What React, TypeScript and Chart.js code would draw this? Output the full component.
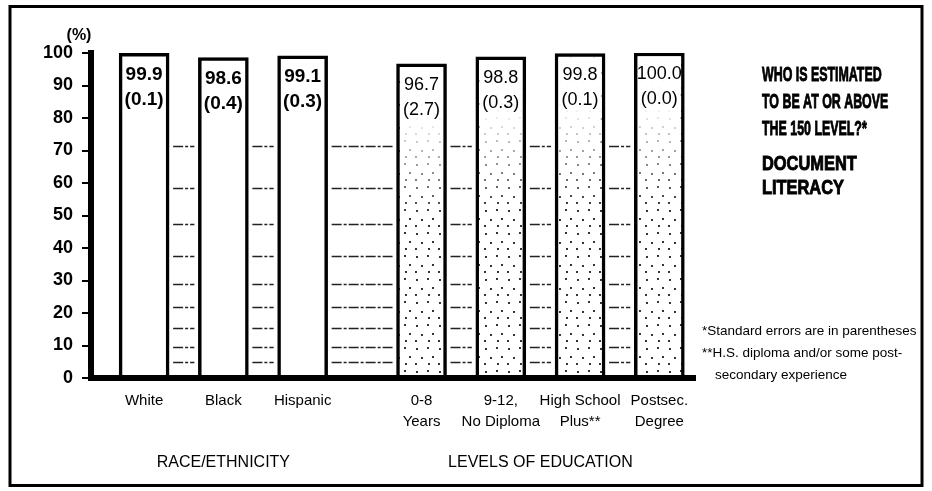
import React, { useEffect, useRef } from "react";
import { Chart, registerables } from "chart.js";

Chart.register(...registerables);

// ---------- data ----------
const categories: string[][] = [
  ["White"],
  ["Black"],
  ["Hispanic"],
  ["0-8", "Years"],
  ["9-12,", "No Diploma"],
  ["High School", "Plus**"],
  ["Postsec.", "Degree"],
];
const positions = [0, 1, 2, 3.5, 4.5, 5.5, 6.5];
const values = [99.9, 98.6, 99.1, 96.7, 98.8, 99.8, 100.0];
const stdErrors = [0.1, 0.4, 0.3, 2.7, 0.3, 0.1, 0.0];
const isEducation = [false, false, false, true, true, true, true];

const groupNames = ["RACE/ETHNICITY", "LEVELS OF EDUCATION"];
const groupCenters = [1, 5];

const titleLines = ["WHO IS ESTIMATED", "TO BE AT OR ABOVE", "THE 150 LEVEL?*"];
const subtitleLines = ["DOCUMENT", "LITERACY"];
const footnotes = [
  "*Standard errors are in parentheses",
  "**H.S. diploma and/or some post-",
  "secondary experience",
];
const yUnit = "(%)";

// decorative background hatch levels (between bars)
const decorLevels = [5, 9.5, 15.5, 22, 29, 37.5, 47.5, 58.5, 71.5];

// ---------- style ----------
const FONT = '"Liberation Sans", Arial, sans-serif';
const stippleDots: number[][] = [
  [3, 4], [14, 3], [19, 12], [8, 13], [15, 19], [2, 19],
];

function makeStipple(): CanvasPattern | string {
  const c = document.createElement("canvas");
  c.width = 23;
  c.height = 23;
  const g = c.getContext("2d");
  if (!g) return "#fff";
  g.fillStyle = "#fff";
  g.fillRect(0, 0, 23, 23);
  g.fillStyle = "#000";
  for (const [dx, dy] of stippleDots) {
    g.beginPath();
    g.arc(dx, dy, 1.05, 0, Math.PI * 2);
    g.fill();
  }
  return g.createPattern(c, "repeat") || "#fff";
}

function drawScaled(ctx: CanvasRenderingContext2D, text: string, x: number, y: number, sx: number) {
  ctx.save();
  ctx.translate(x, y);
  ctx.scale(sx, 1);
  ctx.fillText(text, 0, 0);
  ctx.lineWidth = 0.9;
  ctx.strokeStyle = "#000";
  ctx.strokeText(text, 0, 0);
  ctx.restore();
}

const BORDER = 3.5;

const decorPlugin = {
  id: "decor",
  beforeDatasetsDraw(chart: any) {
    const { ctx } = chart;
    const y = chart.scales.y;
    const meta = chart.getDatasetMeta(0);
    ctx.save();
    ctx.strokeStyle = "#222";
    ctx.lineWidth = 1.3;
    ctx.setLineDash([10, 2, 3, 2]);
    for (let i = 0; i < meta.data.length - 1; i++) {
      const a = meta.data[i];
      const b = meta.data[i + 1];
      const x1 = a.x + a.width / 2 + 4;
      const x2 = b.x - b.width / 2 - 4;
      for (const lv of decorLevels) {
        const py = Math.round(y.getPixelForValue(lv)) + 0.5;
        ctx.beginPath();
        ctx.moveTo(x1, py);
        ctx.lineTo(x2, py);
        ctx.stroke();
      }
    }
    ctx.restore();
  },
  afterDatasetsDraw(chart: any) {
    const { ctx } = chart;
    const meta = chart.getDatasetMeta(0);
    ctx.save();
    // fade the stipple toward the top of the education bars
    meta.data.forEach((el: any, i: number) => {
      if (!isEducation[i]) return;
      const left = el.x - el.width / 2 + BORDER;
      const w = el.width - 2 * BORDER;
      const top = el.y + BORDER;
      const h = 150;
      const grad = ctx.createLinearGradient(0, top, 0, top + h);
      grad.addColorStop(0, "rgba(255,255,255,1)");
      grad.addColorStop(0.35, "rgba(255,255,255,0.95)");
      grad.addColorStop(1, "rgba(255,255,255,0)");
      ctx.fillStyle = grad;
      ctx.fillRect(left, top, w, h);
    });
    ctx.fillStyle = "#000";
    ctx.textAlign = "center";
    ctx.textBaseline = "middle";
    meta.data.forEach((el: any, i: number) => {
      ctx.font = isEducation[i] ? `normal 18px ${FONT}` : `bold 19px ${FONT}`;
      ctx.fillText(values[i].toFixed(1), el.x, el.y + 21);
      ctx.fillText(`(${stdErrors[i].toFixed(1)})`, el.x, el.y + 46);
    });
    ctx.restore();
  },
  afterDraw(chart: any) {
    const { ctx, chartArea } = chart;
    const x = chart.scales.x;
    ctx.save();
    ctx.fillStyle = "#000";
    ctx.textBaseline = "middle";

    // unit label
    ctx.textAlign = "center";
    ctx.font = `bold 16px ${FONT}`;
    ctx.fillText(yUnit, chartArea.left - 12, chartArea.top - 17);

    // group labels
    ctx.font = `normal 16px ${FONT}`;
    groupNames.forEach((g, i) => {
      ctx.fillText(g, x.getPixelForValue(groupCenters[i]), 463);
    });

    // right-side title
    ctx.textAlign = "left";
    ctx.font = `bold 20px ${FONT}`;
    const tx = chartArea.right + 67;
    titleLines.forEach((t, i) => drawScaled(ctx, t, tx, 75 + i * 27, 0.62));
    subtitleLines.forEach((t, i) => drawScaled(ctx, t, tx, 164 + i * 24, 0.82));

    // footnotes
    ctx.font = `normal 13.5px ${FONT}`;
    ctx.fillText(footnotes[0], chartArea.right + 7, 331);
    ctx.fillText(footnotes[1], chartArea.right + 7, 353);
    ctx.fillText(footnotes[2], chartArea.right + 20, 375);

    // outer frame
    ctx.strokeStyle = "#000";
    ctx.lineWidth = 3;
    ctx.strokeRect(10, 6.5, 912, 479);
    ctx.restore();
  },
};

export default function App() {
  const ref = useRef<HTMLCanvasElement | null>(null);

  useEffect(() => {
    if (!ref.current) return;
    Chart.defaults.font.family = FONT;
    Chart.defaults.color = "#000";
    const stipple = makeStipple();

    const chart = new Chart(ref.current, {
      type: "bar",
      data: {
        datasets: [
          {
            data: positions.map((p, i) => ({ x: p, y: values[i] })),
            backgroundColor: isEducation.map((e) => (e ? stipple : "#fff")) as any,
            borderColor: "#000",
            borderWidth: BORDER,
            borderSkipped: "bottom",
            barThickness: 50,
          },
        ],
      },
      options: {
        animation: false,
        responsive: false,
        devicePixelRatio: 1,
        layout: { padding: { top: 53, right: 237, bottom: 0, left: 0 } },
        plugins: { legend: { display: false }, tooltip: { enabled: false } },
        scales: {
          x: {
            type: "linear",
            offset: false,
            min: -0.67,
            max: 6.95,
            grid: { display: false, drawTicks: false, offset: false },
            border: { display: true, width: 6, color: "#000", z: 1 } as any,
            afterBuildTicks: (s: any) => {
              s.ticks = positions.map((v) => ({ value: v }));
            },
            afterFit: (s: any) => {
              s.height = 113;
            },
            ticks: {
              autoSkip: false,
              maxRotation: 0,
              minRotation: 0,
              padding: 12,
              color: "#000",
              font: { size: 15, lineHeight: 1.4 },
              callback: (v: any) => {
                const i = positions.indexOf(Number(v));
                return i >= 0 ? categories[i] : "";
              },
            },
          },
          y: {
            min: 0,
            max: 100,
            afterFit: (s: any) => {
              s.width = 91;
            },
            ticks: {
              stepSize: 10,
              padding: 9,
              color: "#000",
              font: { size: 18, weight: "bold" },
            },
            grid: {
              drawOnChartArea: false,
              drawTicks: true,
              tickLength: 9,
              lineWidth: 2,
              color: "#000",
            },
            border: { display: true, width: 6, color: "#000", z: 1 } as any,
          },
        },
      },
      plugins: [decorPlugin],
    });

    return () => chart.destroy();
  }, []);

  return (
    <div style={{ position: "absolute", left: 0, top: 0, width: 932, height: 491, background: "#fff" }}>
      <canvas ref={ref} width={932} height={491} style={{ display: "block" }} />
    </div>
  );
}
